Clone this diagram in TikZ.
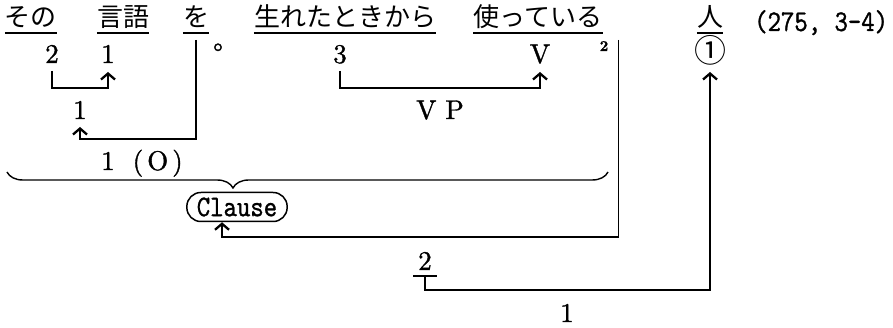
\documentclass[tikz,border=0pt]{standalone}
\usepackage{fontspec}
\newfontfamily\jp{Noto Sans CJK JP}
\newfontfamily\labf{lmroman10-regular}[Extension=.otf, FakeBold=1.3]
\newfontfamily\boldf{lmroman10-bold}[Extension=.otf, FakeBold=1.0]
\newfontfamily\monof{lmmono10-regular}[Extension=.otf, FakeBold=1.0, FakeStretch=0.85]
\usetikzlibrary{arrows.meta,decorations.pathreplacing,calc}
\tikzset{
  word/.style={font=\jp\fontsize{26}{26}\selectfont, inner sep=0pt, anchor=base},
  lab/.style={font=\labf\fontsize{27}{27}\selectfont, inner sep=0pt, anchor=base},
  mono/.style={font=\monof\fontsize{30}{30}\selectfont, inner sep=0pt, anchor=base},
  uline/.style={line width=1.5pt},
  conn/.style={line width=1.4pt},
  arr/.style={conn, -{Straight Barb[length=6pt,width=14pt,line width=2.3pt]}},
}
\begin{document}
\begin{tikzpicture}[x=1pt,y=-1pt]
\useasboundingbox (0,0) rectangle (893,328);
% top row
\node[word] (w1) at (31,27) {その};
\node[word] (w2) at (123,27) {言語};
\node[word] (w3) at (196,27) {を};
\node[word] (w4) at (345,27) {生れたときから};
\node[word] (w5) at (538,27) {使っている};
\node[word] (w6) at (710,27) {人};
\node[mono, anchor=base west] (src) at (754,31) {(275, 3-4)};
\foreach \w in {w1,w2,w3,w4,w5,w6}
  \draw[uline] ($(\w.base west)+(0,6)$) -- ($(\w.base east)+(0,6)$);
% second row
\node[lab] (a2) at (52,63) {2};
\node[lab] (a1) at (108,63) {1};
\node[lab] (deg) at (218,62) {°};
\node[lab] (a3) at (340,63) {3};
\node[lab] (aV) at (540,63) {V};
\node[font=\boldf\fontsize{15}{15}\selectfont, inner sep=0pt, anchor=base] (sq) at (604,51) {2};
\node[font=\jp\fontsize{32}{32}\selectfont, inner sep=0pt, anchor=base] (c1) at (710,63) {①};
% third row
\node[lab] (b1) at (80,119) {1};
\node[lab] (vp) at (440,119) {V P};
\node[lab] (o1) at (142,170) {1\ \ (\hspace{4pt}O\hspace{4pt})};
% clause
\node[draw, line width=1.5pt, rounded corners=14pt, minimum height=29pt, inner xsep=10pt, inner ysep=0pt,
      font=\monof\fontsize{30}{30}\selectfont] (cl) at (237,207) {Clause};
% bottom
\node[lab] (d2) at (425,270) {2};
\draw[uline] ($(d2.base west)+(-5,6)$) -- ($(d2.base east)+(5,6)$);
\node[lab] (e1) at (567,322) {1};
% helper rows
\coordinate (y88) at (0,88);
\coordinate (y139) at (0,139);
\coordinate (y237) at (0,237);
\coordinate (y290) at (0,290);
\coordinate (t5) at ($(w5.base east)+(16,13)$);
\coordinate (bl) at (7,172);
\coordinate (br) at (608,172);
% connectors
\draw[arr] ($(a2.base)+(0,8)$) -- (a2.base |- y88) -| ($(a1.base)+(0,9)$);
\draw[arr] ($(w3.base)+(0,13)$) -- (w3.base |- y139) -| ($(b1.base)+(0,8)$);
\draw[arr] ($(a3.base)+(0,8)$) -- (a3.base |- y88) -| ($(aV.base)+(0,9)$);
\draw[arr] (t5) -- (t5 |- y237) -| ([xshift=-15pt]cl.south);
\draw[arr] ($(d2.base)+(0,6)$) -- (d2.base |- y290) -| ($(c1.base)+(0,9)$);
% brace
\draw[conn, decorate, decoration={brace, mirror, amplitude=16pt, aspect=0.376}] (bl) -- (br);
\end{tikzpicture}
\end{document}
